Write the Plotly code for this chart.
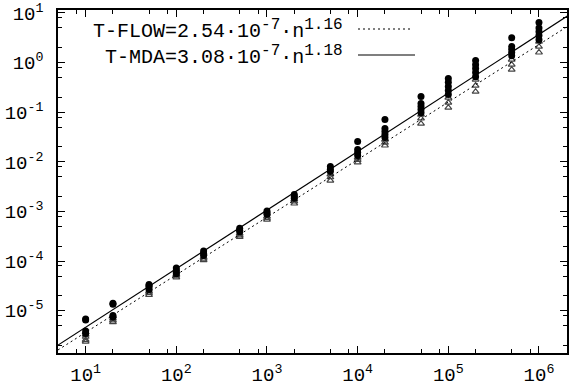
import plotly.graph_objects as go
import numpy as np

# ---- data ----
n_values = [10, 20, 50, 100, 200, 500, 1000, 2000, 5000, 1e4, 2e4, 5e4, 1e5, 2e5, 5e5, 1e6]

mda_times = [
    [6.8e-6, 6.5e-6, 3.9e-6, 3.5e-6],
    [1.42e-5, 1.35e-5, 8.0e-6, 7.5e-6],
    [3.4e-5, 3.2e-5, 3.0e-5, 2.7e-5],
    [7.3e-5, 6.6e-5, 6.0e-5, 5.6e-5],
    [1.6e-4, 1.45e-4, 1.3e-4],
    [4.6e-4, 4.2e-4, 3.9e-4],
    [1.02e-3, 9.5e-4, 8.8e-4],
    [2.2e-3, 2.0e-3, 1.85e-3],
    [8.1e-3, 7.1e-3, 6.4e-3],
    [0.0257, 0.0177, 0.0154, 0.0134],
    [0.0713, 0.047, 0.041, 0.0356, 0.031],
    [0.207, 0.15, 0.13, 0.113, 0.098],
    [0.476, 0.40, 0.33, 0.273, 0.227],
    [1.10, 0.91, 0.76, 0.63, 0.52],
    [3.18, 2.10, 1.83, 1.59, 1.38],
    [6.4, 5.0, 4.2, 3.5, 2.9],
]

flow_times = [
    [3.7e-6, 3.3e-6, 3.0e-6, 2.6e-6, 2.4e-6],
    [7.8e-6, 7.0e-6, 6.4e-6, 5.9e-6],
    [2.5e-5, 2.3e-5, 2.1e-5],
    [5.5e-5, 5.1e-5, 4.7e-5],
    [1.2e-4, 1.12e-4, 1.05e-4],
    [3.6e-4, 3.3e-4, 3.1e-4],
    [8.0e-4, 7.4e-4, 6.9e-4],
    [1.75e-3, 1.6e-3, 1.45e-3],
    [5.6e-3, 4.9e-3, 4.2e-3],
    [0.0122, 0.011, 0.0098],
    [0.028, 0.0245, 0.0214],
    [0.09, 0.075, 0.059],
    [0.198, 0.157, 0.124],
    [0.455, 0.345, 0.26],
    [1.15, 0.91, 0.72],
    [2.65, 2.1, 1.6],
]

flow_coef, flow_exp = 2.54e-7, 1.16
mda_coef, mda_exp = 3.08e-7, 1.18
line_n = [4, 3e6]

x_major = [10, 100, 1000, 1e4, 1e5, 1e6]
x_exponents = ["1", "2", "3", "4", "5", "6"]
y_major = [1e-5, 1e-4, 1e-3, 1e-2, 1e-1, 1, 10]
y_exponents = ["-5", "-4", "-3", "-2", "-1", "0", "1"]
minor_factors = [2, 5, 8]

FONT = "Liberation Mono"
SUP = '<sup><span style="font-size:16px">{}</span></sup>'

def pow_label(e):
    return "10<sup>" + e + "</sup>"

def flat(ns, groups):
    xs, ys = [], []
    for n, g in zip(ns, groups):
        for v in g:
            xs.append(n)
            ys.append(v)
    return xs, ys

fig = go.Figure()

mx, my = flat(n_values, mda_times)
fx, fy = flat(n_values, flow_times)

fig.add_trace(go.Scatter(x=fx, y=fy, mode="markers",
                         marker=dict(symbol="triangle-up-open", size=6, color="#444",
                                     line=dict(width=1.2, color="#444")),
                         showlegend=False))
fig.add_trace(go.Scatter(x=mx, y=my, mode="markers",
                         marker=dict(symbol="circle", size=7, color="black"),
                         showlegend=False))

ln = np.array(line_n, dtype=float)
fig.add_trace(go.Scatter(x=ln, y=flow_coef * ln ** flow_exp, mode="lines",
                         line=dict(color="black", width=1, dash="2px,3px"),
                         showlegend=False))
fig.add_trace(go.Scatter(x=ln, y=mda_coef * ln ** mda_exp, mode="lines",
                         line=dict(color="black", width=1.2),
                         showlegend=False))

x_minor = [f * 10 ** k for k in range(0, 7) for f in minor_factors]
y_minor = [f * 10 ** k for k in range(-6, 2) for f in minor_factors]

axis_common = dict(
    showgrid=False, zeroline=False, showline=True, linecolor="black", linewidth=1.5,
    mirror="allticks", ticks="inside", ticklen=7, tickcolor="black", tickwidth=1,
    tickfont=dict(family=FONT, size=19, color="black"), automargin=False,
)

fig.update_xaxes(type="log", range=[0.695, 6.309], tickmode="array",
                 tickvals=x_major, ticktext=[pow_label(e) for e in x_exponents],
                 minor=dict(tickmode="array", tickvals=x_minor, ticks="inside",
                            ticklen=4, tickcolor="black", tickwidth=1),
                 ticklabelstandoff=3, **axis_common)
fig.update_yaxes(type="log", range=[-5.85, 1.06], tickmode="array",
                 tickvals=y_major, ticktext=[pow_label(e) for e in y_exponents],
                 minor=dict(tickmode="array", tickvals=y_minor, ticks="inside",
                            ticklen=4, tickcolor="black", tickwidth=1),
                 ticklabelstandoff=9, **axis_common)

# legend (gnuplot style: right-aligned text then line sample)
legend_rows = [
    ("T-FLOW=2.54·10" + SUP.format("-7") + "·n" + SUP.format("1.16"), 30),
    ("T-MDA=3.08·10" + SUP.format("-7") + "·n" + SUP.format("1.18"), 56),
]
for txt, py in legend_rows:
    fig.add_annotation(xref="paper", yref="paper", x=(345 - 58) / 509, y=(353 - py) / 343,
                       xanchor="right", yanchor="middle", showarrow=False,
                       text=txt, font=dict(family=FONT, size=20, color="black"))
fig.add_shape(type="line", xref="paper", yref="paper",
              x0=(358 - 58) / 509, x1=(413 - 58) / 509,
              y0=(353 - 29) / 343, y1=(353 - 29) / 343,
              line=dict(color="black", width=1, dash="2px,3px"))
fig.add_shape(type="line", xref="paper", yref="paper",
              x0=(358 - 58) / 509, x1=(415 - 58) / 509,
              y0=(353 - 55) / 343, y1=(353 - 55) / 343,
              line=dict(color="black", width=1.2))

fig.update_layout(width=570, height=392,
                  margin=dict(l=58, r=3, t=10, b=39),
                  plot_bgcolor="white", paper_bgcolor="white",
                  font=dict(family=FONT, color="black"))

fig.write_html("out.html")
